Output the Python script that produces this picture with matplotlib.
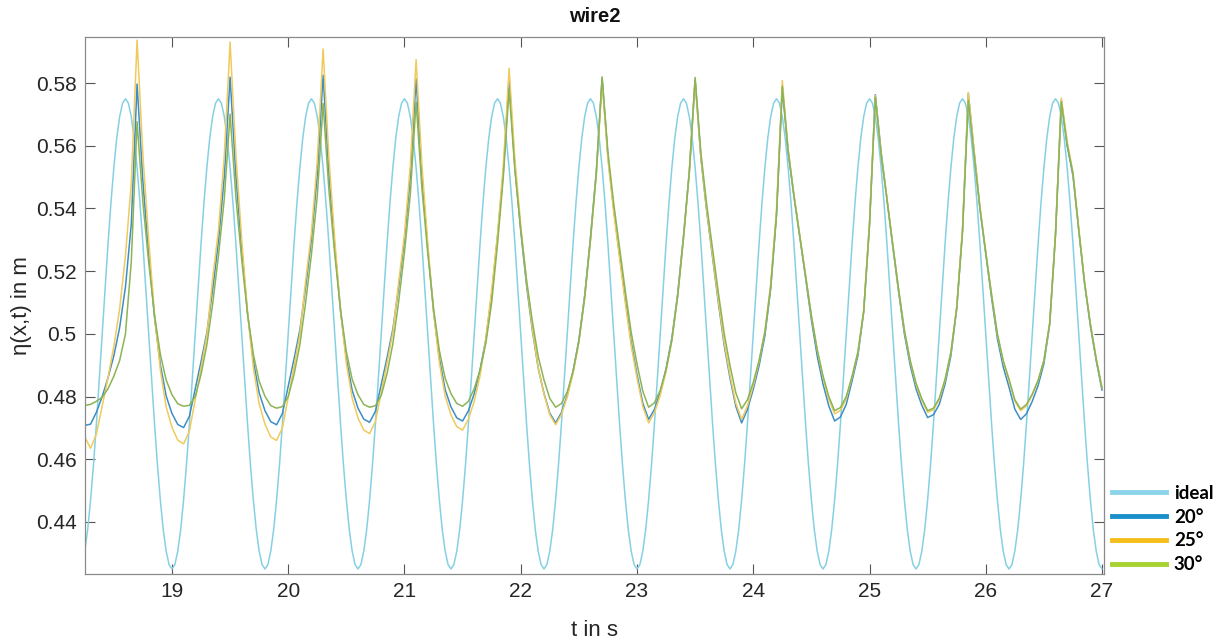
import numpy as np
import matplotlib
matplotlib.use('Agg')
import matplotlib.pyplot as plt
from matplotlib.lines import Line2D

# ---------------- data ----------------
# ideal wave, sampled every 0.025 s from 18.25 s to 27.00 s
t_ideal = np.linspace(18.25, 27.0, 351)
ideal = [
    0.4307, 0.4376, 0.4470, 0.4583, 0.4713, 0.4854, 0.5000, 0.5146, 0.5287, 0.5417, 0.5530, 0.5624, 0.5693, 0.5736, 0.5750, 0.5736,
    0.5693, 0.5624, 0.5530, 0.5417, 0.5287, 0.5146, 0.5000, 0.4854, 0.4713, 0.4583, 0.4470, 0.4376, 0.4307, 0.4264, 0.4250, 0.4264,
    0.4307, 0.4376, 0.4470, 0.4583, 0.4713, 0.4854, 0.5000, 0.5146, 0.5287, 0.5417, 0.5530, 0.5624, 0.5693, 0.5736, 0.5750, 0.5736,
    0.5693, 0.5624, 0.5530, 0.5417, 0.5287, 0.5146, 0.5000, 0.4854, 0.4713, 0.4583, 0.4470, 0.4376, 0.4307, 0.4264, 0.4250, 0.4264,
    0.4307, 0.4376, 0.4470, 0.4583, 0.4713, 0.4854, 0.5000, 0.5146, 0.5287, 0.5417, 0.5530, 0.5624, 0.5693, 0.5736, 0.5750, 0.5736,
    0.5693, 0.5624, 0.5530, 0.5417, 0.5287, 0.5146, 0.5000, 0.4854, 0.4713, 0.4583, 0.4470, 0.4376, 0.4307, 0.4264, 0.4250, 0.4264,
    0.4307, 0.4376, 0.4470, 0.4583, 0.4713, 0.4854, 0.5000, 0.5146, 0.5287, 0.5417, 0.5530, 0.5624, 0.5693, 0.5736, 0.5750, 0.5736,
    0.5693, 0.5624, 0.5530, 0.5417, 0.5287, 0.5146, 0.5000, 0.4854, 0.4713, 0.4583, 0.4470, 0.4376, 0.4307, 0.4264, 0.4250, 0.4264,
    0.4307, 0.4376, 0.4470, 0.4583, 0.4713, 0.4854, 0.5000, 0.5146, 0.5287, 0.5417, 0.5530, 0.5624, 0.5693, 0.5736, 0.5750, 0.5736,
    0.5693, 0.5624, 0.5530, 0.5417, 0.5287, 0.5146, 0.5000, 0.4854, 0.4713, 0.4583, 0.4470, 0.4376, 0.4307, 0.4264, 0.4250, 0.4264,
    0.4307, 0.4376, 0.4470, 0.4583, 0.4713, 0.4854, 0.5000, 0.5146, 0.5287, 0.5417, 0.5530, 0.5624, 0.5693, 0.5736, 0.5750, 0.5736,
    0.5693, 0.5624, 0.5530, 0.5417, 0.5287, 0.5146, 0.5000, 0.4854, 0.4713, 0.4583, 0.4470, 0.4376, 0.4307, 0.4264, 0.4250, 0.4264,
    0.4307, 0.4376, 0.4470, 0.4583, 0.4713, 0.4854, 0.5000, 0.5146, 0.5287, 0.5417, 0.5530, 0.5624, 0.5693, 0.5736, 0.5750, 0.5736,
    0.5693, 0.5624, 0.5530, 0.5417, 0.5287, 0.5146, 0.5000, 0.4854, 0.4713, 0.4583, 0.4470, 0.4376, 0.4307, 0.4264, 0.4250, 0.4264,
    0.4307, 0.4376, 0.4470, 0.4583, 0.4713, 0.4854, 0.5000, 0.5146, 0.5287, 0.5417, 0.5530, 0.5624, 0.5693, 0.5736, 0.5750, 0.5736,
    0.5693, 0.5624, 0.5530, 0.5417, 0.5287, 0.5146, 0.5000, 0.4854, 0.4713, 0.4583, 0.4470, 0.4376, 0.4307, 0.4264, 0.4250, 0.4264,
    0.4307, 0.4376, 0.4470, 0.4583, 0.4713, 0.4854, 0.5000, 0.5146, 0.5287, 0.5417, 0.5530, 0.5624, 0.5693, 0.5736, 0.5750, 0.5736,
    0.5693, 0.5624, 0.5530, 0.5417, 0.5287, 0.5146, 0.5000, 0.4854, 0.4713, 0.4583, 0.4470, 0.4376, 0.4307, 0.4264, 0.4250, 0.4264,
    0.4307, 0.4376, 0.4470, 0.4583, 0.4713, 0.4854, 0.5000, 0.5146, 0.5287, 0.5417, 0.5530, 0.5624, 0.5693, 0.5736, 0.5750, 0.5736,
    0.5693, 0.5624, 0.5530, 0.5417, 0.5287, 0.5146, 0.5000, 0.4854, 0.4713, 0.4583, 0.4470, 0.4376, 0.4307, 0.4264, 0.4250, 0.4264,
    0.4307, 0.4376, 0.4470, 0.4583, 0.4713, 0.4854, 0.5000, 0.5146, 0.5287, 0.5417, 0.5530, 0.5624, 0.5693, 0.5736, 0.5750, 0.5736,
    0.5693, 0.5624, 0.5530, 0.5417, 0.5287, 0.5146, 0.5000, 0.4854, 0.4713, 0.4583, 0.4470, 0.4376, 0.4307, 0.4264, 0.4250,
]

# measured gauge signals, sampled every 0.05 s from 18.25 s to 27.00 s
t_meas = np.linspace(18.25, 27.0, 176)
deg20 = [
    0.4708, 0.4712, 0.4750, 0.4800, 0.4860, 0.4930, 0.5020, 0.5150, 0.5350, 0.5797,
    0.5486, 0.5254, 0.5053, 0.4902, 0.4802, 0.4746, 0.4711, 0.4701, 0.4737, 0.4824, 0.4911, 0.5004, 0.5141, 0.5296, 0.5501, 0.5819,
    0.5504, 0.5270, 0.5066, 0.4913, 0.4812, 0.4755, 0.4720, 0.4710, 0.4746, 0.4833, 0.4920, 0.5012, 0.5149, 0.5303, 0.5508, 0.5825,
    0.5511, 0.5277, 0.5073, 0.4921, 0.4820, 0.4763, 0.4728, 0.4718, 0.4753, 0.4838, 0.4924, 0.5015, 0.5149, 0.5301, 0.5502, 0.5813,
    0.5503, 0.5273, 0.5072, 0.4922, 0.4822, 0.4767, 0.4732, 0.4722, 0.4755, 0.4809, 0.4885, 0.4983, 0.5125, 0.5310, 0.5516, 0.5810,
    0.5530, 0.5329, 0.5154, 0.5011, 0.4891, 0.4810, 0.4747, 0.4716, 0.4749, 0.4804, 0.4881, 0.4980, 0.5123, 0.5309, 0.5518, 0.5815,
    0.5566, 0.5397, 0.5253, 0.5108, 0.4974, 0.4870, 0.4779, 0.4727, 0.4759, 0.4814, 0.4889, 0.4987, 0.5128, 0.5312, 0.5518, 0.5810,
    0.5559, 0.5390, 0.5244, 0.5099, 0.4964, 0.4859, 0.4769, 0.4716, 0.4759, 0.4823, 0.4898, 0.4994, 0.5144, 0.5379, 0.5785,
    0.5580, 0.5440, 0.5310, 0.5180, 0.5045, 0.4930, 0.4840, 0.4770, 0.4722, 0.4735, 0.4775, 0.4850, 0.4930, 0.5070, 0.5350, 0.5763,
    0.5580, 0.5430, 0.5280, 0.5135, 0.5000, 0.4900, 0.4825, 0.4772, 0.4733, 0.4742, 0.4775, 0.4840, 0.4930, 0.5080, 0.5330, 0.5767,
    0.5580, 0.5400, 0.5255, 0.5115, 0.4985, 0.4895, 0.4830, 0.4760, 0.4727, 0.4745, 0.4785, 0.4835, 0.4905, 0.5030, 0.5320, 0.5745,
    0.5600, 0.5505, 0.5330, 0.5160, 0.5025, 0.4915, 0.4820,
]
deg25 = [
    0.4671, 0.4635, 0.4680, 0.4770, 0.4860, 0.4960, 0.5080, 0.5250, 0.5480, 0.5937,
    0.5571, 0.5299, 0.5062, 0.4885, 0.4767, 0.4702, 0.4661, 0.4649, 0.4690, 0.4790, 0.4890, 0.4996, 0.5175, 0.5331, 0.5567, 0.5931,
    0.5570, 0.5302, 0.5068, 0.4893, 0.4777, 0.4712, 0.4671, 0.4660, 0.4700, 0.4797, 0.4895, 0.4998, 0.5170, 0.5324, 0.5554, 0.5909,
    0.5561, 0.5302, 0.5076, 0.4907, 0.4795, 0.4732, 0.4693, 0.4682, 0.4720, 0.4813, 0.4906, 0.5005, 0.5165, 0.5317, 0.5536, 0.5875,
    0.5539, 0.5290, 0.5072, 0.4909, 0.4802, 0.4741, 0.4704, 0.4693, 0.4728, 0.4785, 0.4866, 0.4985, 0.5140, 0.5316, 0.5535, 0.5847,
    0.5556, 0.5347, 0.5165, 0.5017, 0.4892, 0.4808, 0.4742, 0.4710, 0.4743, 0.4798, 0.4874, 0.4973, 0.5115, 0.5301, 0.5509, 0.5805,
    0.5556, 0.5387, 0.5242, 0.5097, 0.4963, 0.4859, 0.4768, 0.4716, 0.4749, 0.4804, 0.4880, 0.4979, 0.5121, 0.5307, 0.5515, 0.5810,
    0.5562, 0.5394, 0.5250, 0.5106, 0.4973, 0.4869, 0.4779, 0.4727, 0.4770, 0.4835, 0.4911, 0.5008, 0.5159, 0.5397, 0.5808,
    0.5590, 0.5445, 0.5315, 0.5188, 0.5058, 0.4948, 0.4860, 0.4792, 0.4745, 0.4756, 0.4793, 0.4862, 0.4940, 0.5075, 0.5355, 0.5760,
    0.5575, 0.5432, 0.5285, 0.5142, 0.5010, 0.4912, 0.4838, 0.4788, 0.4750, 0.4758, 0.4790, 0.4852, 0.4940, 0.5085, 0.5335, 0.5770,
    0.5585, 0.5405, 0.5262, 0.5125, 0.4998, 0.4912, 0.4852, 0.4785, 0.4755, 0.4770, 0.4805, 0.4850, 0.4915, 0.5035, 0.5320, 0.5752,
    0.5615, 0.5515, 0.5335, 0.5165, 0.5032, 0.4922, 0.4828,
]
deg30 = [
    0.4772, 0.4775, 0.4785, 0.4798, 0.4825, 0.4865, 0.4915, 0.5000, 0.5230, 0.5677,
    0.5419, 0.5228, 0.5060, 0.4935, 0.4853, 0.4806, 0.4777, 0.4769, 0.4772, 0.4800, 0.4870, 0.4965, 0.5095, 0.5250, 0.5430, 0.5701,
    0.5435, 0.5237, 0.5064, 0.4935, 0.4849, 0.4801, 0.4771, 0.4763, 0.4768, 0.4800, 0.4870, 0.4965, 0.5100, 0.5255, 0.5440, 0.5735,
    0.5460, 0.5255, 0.5077, 0.4943, 0.4855, 0.4806, 0.4775, 0.4766, 0.4771, 0.4803, 0.4873, 0.4968, 0.5103, 0.5260, 0.5445, 0.5740,
    0.5464, 0.5259, 0.5081, 0.4947, 0.4858, 0.4809, 0.4778, 0.4769, 0.4785, 0.4825, 0.4885, 0.4970, 0.5100, 0.5285, 0.5500, 0.5780,
    0.5520, 0.5334, 0.5172, 0.5040, 0.4928, 0.4853, 0.4794, 0.4766, 0.4778, 0.4815, 0.4880, 0.4975, 0.5115, 0.5300, 0.5510, 0.5820,
    0.5579, 0.5415, 0.5275, 0.5135, 0.5005, 0.4904, 0.4817, 0.4766, 0.4780, 0.4820, 0.4885, 0.4980, 0.5120, 0.5305, 0.5515, 0.5818,
    0.5576, 0.5412, 0.5272, 0.5131, 0.5001, 0.4899, 0.4812, 0.4761, 0.4790, 0.4845, 0.4915, 0.5005, 0.5150, 0.5380, 0.5790,
    0.5585, 0.5440, 0.5312, 0.5186, 0.5058, 0.4950, 0.4866, 0.4800, 0.4755, 0.4765, 0.4800, 0.4865, 0.4942, 0.5072, 0.5345, 0.5755,
    0.5570, 0.5430, 0.5285, 0.5143, 0.5012, 0.4915, 0.4843, 0.4793, 0.4755, 0.4763, 0.4795, 0.4855, 0.4942, 0.5082, 0.5325, 0.5745,
    0.5570, 0.5400, 0.5260, 0.5125, 0.5000, 0.4915, 0.4855, 0.4790, 0.4760, 0.4775, 0.4808, 0.4852, 0.4915, 0.5035, 0.5315, 0.5740,
    0.5605, 0.5512, 0.5332, 0.5163, 0.5030, 0.4920, 0.4826,
]

x_ticks = [19, 20, 21, 22, 23, 24, 25, 26, 27]
y_ticks = [0.44, 0.46, 0.48, 0.50, 0.52, 0.54, 0.56, 0.58]
y_tick_labels = ['0.44', '0.46', '0.48', '0.5', '0.52', '0.54', '0.56', '0.58']
legend_labels = ['ideal', '20°', '25°', '30°']

assert len(ideal) == len(t_ideal)
assert len(deg20) == len(deg25) == len(deg30) == len(t_meas)

# ---------------- styling ----------------
plot_colors = ['#86d0e4', '#3d8ec6', '#f0ca5c', '#8cb454']
legend_colors = ['#8dd3ea', '#1a8fc9', '#f5be1d', '#a6d12f']

plt.rcParams['font.family'] = ['Liberation Sans', 'DejaVu Sans']

W, H = 1228, 641
fig = plt.figure(figsize=(W / 100, H / 100), dpi=100)
ax = fig.add_axes([85 / W, 1 - 574 / H, (1104 - 85) / W, (574 - 37) / H])

line_kw = dict(lw=1.1, solid_joinstyle='round', solid_capstyle='round')
ax.plot(t_ideal, ideal, color=plot_colors[0], **line_kw)
ax.plot(t_meas, deg20, color=plot_colors[1], **line_kw)
ax.plot(t_meas, deg25, color=plot_colors[2], **line_kw)
ax.plot(t_meas, deg30, color=plot_colors[3], **line_kw)

ax.set_xlim(18.252, 27.017)
ax.set_ylim(0.4234, 0.5947)
ax.set_xticks(x_ticks)
ax.set_xticklabels([str(v) for v in x_ticks])
ax.set_yticks(y_ticks)
ax.set_yticklabels(y_tick_labels)

for s in ax.spines.values():
    s.set_color('#8a8a8a')
    s.set_linewidth(0.9)
ax.tick_params(direction='in', length=7, width=0.8, top=True, right=True,
               color='#555555', labelcolor='#262626', labelsize=15, pad=6)

ax.set_title('wire2', fontsize=14.5, fontweight='bold', color='#111111', pad=11)
ax.set_xlabel('t in s', fontsize=16, color='#262626')
ax.xaxis.set_label_coords(0.5, -0.085)
ax.set_ylabel('η(x,t) in m', fontsize=16, color='#262626')
ax.yaxis.set_label_coords(-0.052, 0.5)

handles = [Line2D([], [], color=c, lw=3.5) for c in legend_colors]
fig.legend(handles, legend_labels, loc='upper left',
           bbox_to_anchor=(1112 / W, 1 - 485 / H), frameon=False,
           prop=dict(family='Lato', weight='bold', size=13.5),
           handlelength=2.9, handletextpad=0.4, labelspacing=0.36,
           borderpad=0, borderaxespad=0)

fig.savefig('out.png', dpi=100)
